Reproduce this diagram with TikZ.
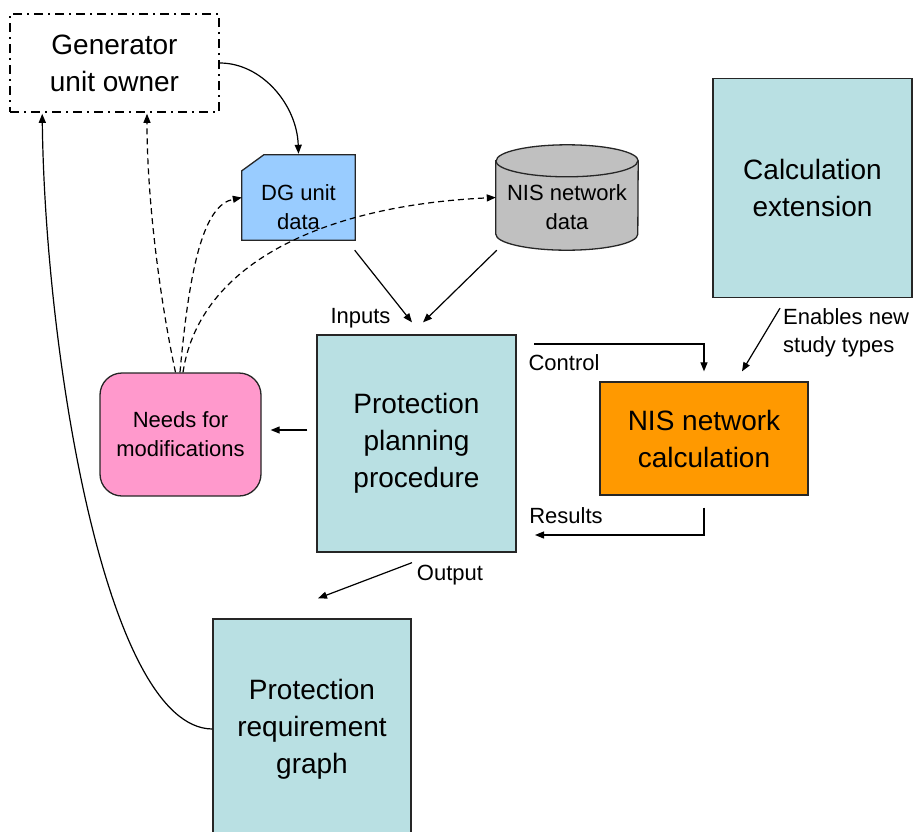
\documentclass[tikz,border=0pt]{standalone}
\usepackage{fontspec}
\setmainfont{Liberation Sans}
\usetikzlibrary{arrows.meta,calc,backgrounds}
\definecolor{boxcyan}{HTML}{B9E0E3}
\definecolor{dgblue}{HTML}{99CCFF}
\definecolor{cylgray}{HTML}{C0C0C0}
\definecolor{needpink}{HTML}{FF99CC}
\definecolor{calcorange}{HTML}{FF9900}
\tikzset{
  bigtext/.style={font=\fontsize{28}{37}\selectfont, align=center},
  smalltext/.style={font=\fontsize{22}{29}\selectfont, align=center},
  cyanbox/.style={draw=black!85, line width=1.3pt, fill=boxcyan, bigtext, inner sep=0pt},
  arr/.style={line width=1.2pt, -{Triangle[length=9pt,width=7pt]}},
  darr/.style={arr, dash pattern=on 6pt off 4pt},
  lbl/.style={font=\fontsize{22}{28}\selectfont, inner sep=0pt},
}
\begin{document}
\begin{tikzpicture}[x=1pt,y=-1pt]
\useasboundingbox (0,0) rectangle (914,831);

% boxes
\node[bigtext, draw, line width=1.6pt, dash pattern=on 9pt off 5pt on 2pt off 5pt,
      fill=white, minimum width=209pt, minimum height=98pt, inner sep=0pt] (gen) at (114.5,63) {Generator\\unit owner};
\node[cyanbox, minimum width=199pt, minimum height=219pt] (calc) at (812.5,188) {Calculation\\extension};
\node[cyanbox, minimum width=199pt, minimum height=217pt] (ppp) at (416.5,443.5) {Protection\\planning\\procedure};
\node[bigtext, draw=black!85, line width=1.3pt, fill=calcorange, inner sep=0pt,
      minimum width=208pt, minimum height=113pt] (nisc) at (704,438.5) {NIS network\\calculation};
\node[cyanbox, minimum width=198pt, minimum height=220pt] (prg) at (312,729) {Protection\\requirement\\graph};
\node[smalltext, draw=black!85, line width=1.3pt, fill=needpink, rounded corners=22pt, inner sep=0pt,
      minimum width=161pt, minimum height=123pt] (needs) at (180.5,434.5) {Needs for\\modifications};

% DG unit data (chamfered card)
\node[minimum width=113pt, minimum height=85pt, inner sep=0pt] (dg) at (298.5,197.5) {};
\node[smalltext, inner sep=0pt] (dgt) at (298.5,207) {DG unit\\data};
% NIS network data (cylinder)
\node[minimum width=142pt, minimum height=105pt, inner sep=0pt] (nis) at (567,197.5) {};
\node[smalltext, inner sep=0pt] (nist) at (567,207) {NIS network\\data};
\begin{pgfonlayer}{background}
\filldraw[fill=dgblue, draw=black!85, line width=1.3pt]
  (dg.south west) -- ($(dg.north west)+(0,16)$) -- ($(dg.north west)+(22,0)$)
  -- (dg.north east) -- (dg.south east) -- cycle;
\filldraw[fill=cylgray, draw=black!85, line width=1.3pt]
  ($(nis.north west)+(0,16)$) -- ($(nis.south west)+(0,-16)$)
  arc[start angle=180, end angle=360, x radius=71pt, y radius=16pt]
  -- ($(nis.north east)+(0,16)$)
  arc[start angle=0, end angle=180, x radius=71pt, y radius=16pt] -- cycle;
\draw[draw=black!85, line width=1.3pt] ($(nis.north west)+(0,16)$)
  arc[start angle=180, end angle=360, x radius=71pt, y radius=16pt];
\end{pgfonlayer}

% labels
\node[lbl, anchor=base] (inlbl) at (360.5,323) {Inputs};
\node[lbl, anchor=base] (ctllbl) at (564,370) {Control};
\node[lbl, anchor=base] (reslbl) at (566,523) {Results};
\node[lbl, anchor=base] (outlbl) at (450,580) {Output};
\node[lbl, anchor=west, align=left] (enlbl) at (783,333) {Enables new\\study types};

% connectors
\coordinate (ctl) at (534,344);
\coordinate (res) at (535,535);
\draw[arr] (gen.east) .. controls (262,63) and (297,105) .. ([yshift=1pt]dg.north);
\draw[arr] ([xshift=-0.5pt,yshift=-10pt]dg.south east) -- ([xshift=-4.5pt,yshift=12pt]ppp.north);
\draw[arr] ([xshift=1pt]nis.south west) -- ([xshift=6.5pt,yshift=12pt]ppp.north);
\draw[arr] (ctl) -| ([yshift=10pt]nisc.north);
\draw[arr] ([yshift=-12pt]nisc.south) |- (res);
\draw[arr] ([xshift=-32.5pt,yshift=-10pt]calc.south) -- ([xshift=38pt,yshift=10pt]nisc.north);
\draw[arr] ($(ppp.west|-0,430)+(-9,0)$) -- ($(needs.east|-0,430)+(9,0)$);
\draw[arr] ([xshift=-4.5pt,yshift=-10pt]ppp.south) -- ([xshift=6pt,yshift=20pt]prg.north);
\draw[arr] (prg.west) .. controls (105,728) and (45,350) .. ([xshift=33pt,yshift=-1pt]gen.south west);
\draw[darr] ([xshift=-5pt]needs.north) .. controls (160,300) and (147,200) .. ([xshift=32.5pt,yshift=-1pt]gen.south);
\draw[darr] ([xshift=-0.5pt]needs.north) .. controls (190,260) and (205,205) .. (dg.west);
\draw[darr] ([xshift=2.5pt]needs.north) .. controls (200,260) and (330,205) .. (nis.west);
\end{tikzpicture}
\end{document}
